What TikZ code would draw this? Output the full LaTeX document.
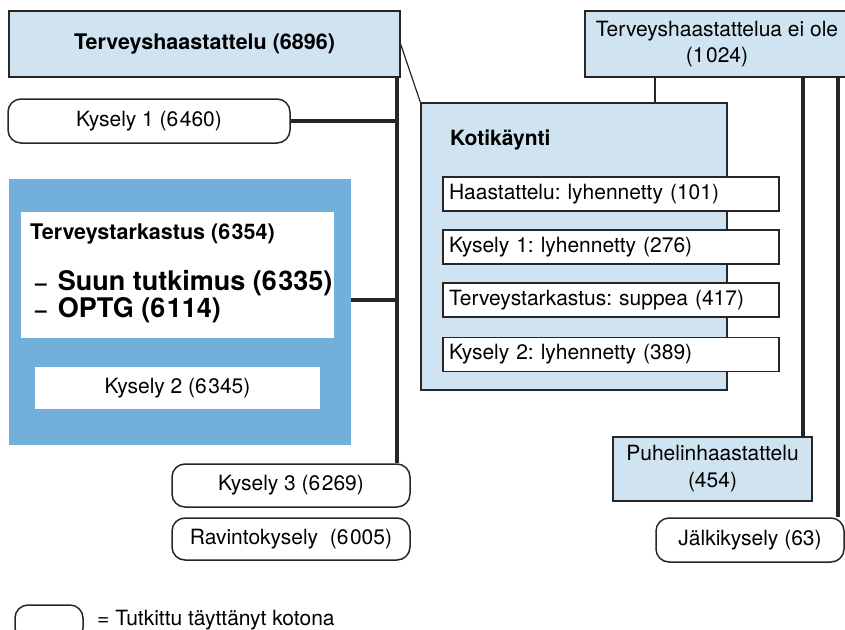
\documentclass[tikz,border=0pt]{standalone}
\usepackage{fontspec}
\setmainfont{TeX Gyre Heros}
\usepackage{xcolor}
\usepackage{tikz}

\definecolor{vaalea}{RGB}{207,227,241}
\definecolor{sininen}{RGB}{114,175,218}
\newcommand{\ts}{\kern1.5pt}
\frenchspacing

\begin{document}
\begin{tikzpicture}[x=1pt, y=-1pt,
        every node/.style={font=\fontsize{21}{26}\selectfont},
        laatikko/.style={draw=black!85, line width=1.2pt, fill=vaalea, inner sep=0pt},
        valkoinen/.style={draw=black!85, line width=1.2pt, fill=white, inner sep=0pt,
            minimum width=336pt, minimum height=34pt, text width=324pt, align=left},
        kotona/.style={draw=black!85, rounded corners=13pt, line width=1.5pt, fill=white, inner sep=0pt},
        paksu/.style={line width=4.5pt, black!85},
        ohut/.style={line width=1.2pt, black!85}]
        \useasboundingbox (0,0) rectangle (845,629);

        % ylarivi
        \node[laatikko, minimum width=391pt, minimum height=66pt,
            font=\bfseries\fontsize{21.5}{26}\selectfont] (haast) at (204.5,44) {Terveyshaastattelu (6896)};
        \node[laatikko, minimum width=264pt, minimum height=66pt, align=center] (eiole) at (717,44)
            {Terveyshaastattelua ei ole\\(1\ts024)};
        \node[kotona, minimum width=282pt, minimum height=44pt] (kys1) at (149,121) {Kysely 1 (6\ts460)};

        % kotikaynti
        \node[laatikko, minimum width=306pt, minimum height=287pt] (koti) at (574,246.5) {};
        \node[anchor=west, inner sep=0pt, font=\bfseries\fontsize{21}{26}\selectfont] (kotiotsikko) at (450,140) {Kotikäynti};
        \node[valkoinen] (haastlyh) at (611,194) {Haastattelu: lyhennetty (101)};
        \node[valkoinen] (kys1lyh) at (611,247) {Kysely 1: lyhennetty (276)};
        \node[valkoinen] (suppea) at (611,300) {Terveystarkastus: suppea (417)};
        \node[valkoinen] (kys2lyh) at (611,354.5) {Kysely 2: lyhennetty (389)};

        % terveystarkastus
        \node[fill=sininen, minimum width=342pt, minimum height=266pt, inner sep=0pt] (tark) at (180,312) {};
        \node[fill=white, minimum width=313pt, minimum height=126pt, inner sep=0pt] (tarkin) at (177.5,275) {};
        \node[anchor=west, inner sep=0pt, font=\bfseries\fontsize{21.5}{26}\selectfont] (tarkotsikko) at (30,234)
            {Terveystarkastus (6\ts354)};
        \node[anchor=west, inner sep=0pt, align=left, font=\bfseries\fontsize{27}{27}\selectfont] (tutkimukset) at (35,296.5)
            {{\fontsize{21}{21}\selectfont –}\kern11pt Suun tutkimus (6\ts335)\\{\fontsize{21}{21}\selectfont –}\kern11pt OPTG (6\ts114)};
        \node[fill=white, minimum width=285pt, minimum height=42pt, inner sep=0pt] (kys2) at (177.5,388) {Kysely 2 (6\ts345)};

        \node[kotona, minimum width=238pt, minimum height=43pt] (kys3) at (291,485.5) {Kysely 3 (6\ts269)};
        \node[kotona, minimum width=238pt, minimum height=42pt] (ravinto) at (291,539) {Ravintokysely\ \ (6\ts005)};

        \node[laatikko, minimum width=199pt, minimum height=64pt, align=center,
            font=\fontsize{21}{27}\selectfont] (puhelin) at (712.5,469) {Puhelinhaastattelu\\(454)};
        \node[kotona, minimum width=188pt, minimum height=44pt] (jalki) at (750,540) {Jälkikysely (63)};

        % selite
        \node[kotona, minimum width=68pt, minimum height=36pt] (selite) at (49,623) {};
        \node[anchor=west, inner sep=0pt] (seliteteksti) at (97,620) {= Tutkittu täyttänyt kotona};

        % viivat
        \coordinate (runko) at (397,0);
        \coordinate (oikea1) at (655,0);
        \coordinate (oikea2) at (803,0);
        \coordinate (oikea3) at (838,0);
        \draw[paksu] (haast.south -| runko) -- (kys3.north -| runko);
        \draw[paksu] (kys1.east) -- (kys1.east -| runko);
        \draw[paksu] ([yshift=12pt]tark.east) -- ([yshift=12pt]tark.east -| runko);
        \draw[ohut] (haast.east) -- (koti.north west);
        \draw[ohut] (eiole.south -| oikea1) -- (koti.north -| oikea1);
        \draw[paksu] (eiole.south -| oikea2) -- (puhelin.north -| oikea2);
        \draw[paksu] (eiole.south -| oikea3) -- (jalki.north -| oikea3);
\end{tikzpicture}
\end{document}
